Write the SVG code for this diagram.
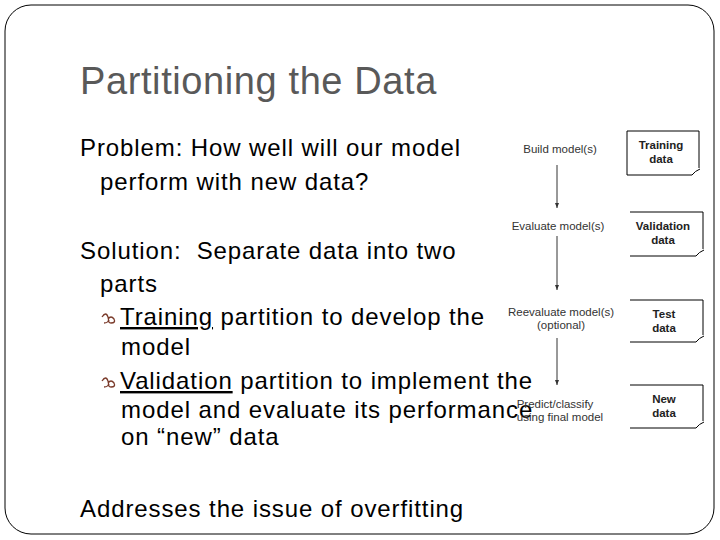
<svg xmlns="http://www.w3.org/2000/svg" width="720" height="540" viewBox="0 0 720 540">
<style>
.b{font-family:"Liberation Sans",Arial,sans-serif;font-size:24px;letter-spacing:0.9px;fill:#000}
.s{font-family:"Liberation Sans",Arial,sans-serif;font-size:11.5px;fill:#333;text-anchor:middle}
.d{font-family:"Liberation Sans",Arial,sans-serif;font-size:11.5px;font-weight:bold;fill:#222;text-anchor:middle}
.box{fill:none;stroke:#000;stroke-width:1}
.ar{stroke:#333;stroke-width:1;marker-end:url(#m)}
.bul{fill:none;stroke:#7a3a2a;stroke-width:1.3}
</style>
<defs><marker id="m" markerWidth="6" markerHeight="6" refX="5" refY="3" orient="auto"><path d="M0,1 L5,3 L0,5z" fill="#333"/></marker></defs>
<rect x="5" y="5" width="709" height="529" rx="26" fill="#fff" stroke="#000" stroke-width="1"/>
<text x="80" y="94" font-family="Liberation Sans, Arial, sans-serif" font-size="38" letter-spacing="0.6" fill="#595959">Partitioning the Data</text>
<g id="body">
<text class="b" x="80" y="156">Problem: How well will our model</text>
<text class="b" x="100" y="190">perform with new data?</text>
<text class="b" x="80" y="259">Solution:&#160; Separate data into two</text>
<text class="b" x="100" y="292">parts</text>
<path class="bul" d="M102,317 q4,-6 6,0 q2,6 -4,6 M108,319 q3,-4 6,0 q2,4 -3,4 q-3,0 -2,-3"/>
<text class="b" x="120" y="325"><tspan text-decoration="underline">Training</tspan> partition to develop the</text>
<text class="b" x="121" y="355">model</text>
<path class="bul" d="M102,381 q4,-6 6,0 q2,6 -4,6 M108,383 q3,-4 6,0 q2,4 -3,4 q-3,0 -2,-3"/>
<text class="b" x="120" y="389"><tspan text-decoration="underline">Validation</tspan> partition to implement the</text>
<text class="b" x="121" y="418">model and evaluate its performance</text>
<text class="b" x="121" y="445">on “new” data</text>
<text class="b" x="80" y="517">Addresses the issue of overfitting</text>
</g>
<g id="steps">
<text class="s" x="560" y="153">Build model(s)</text>
<text class="s" x="558" y="230">Evaluate model(s)</text>
<text class="s" x="561" y="316">Reevaluate model(s)</text>
<text class="s" x="561" y="329">(optional)</text>
<text class="s" x="555" y="408">Predict/classify</text>
<text class="s" x="560" y="421">using final model</text>
</g>
<g id="connectors">
<line class="ar" x1="557" y1="165" x2="557" y2="208"/>
<line class="ar" x1="557" y1="236" x2="557" y2="290"/>
<line class="ar" x1="557" y1="338" x2="557" y2="385"/>
</g>
<g id="training"><path class="box" d="M627,131 H699 V168 M627,131 V175 H692 M692,175 q3,-4 8,-6"/><text class="d" x="661" y="149">Training</text><text class="d" x="661" y="163">data</text></g>
<g id="validation"><path class="box" d="M630,212 H703 V249 M630,256 H696 M696,256 q3,-4 8,-6"/><text class="d" x="663" y="230">Validation</text><text class="d" x="663" y="244">data</text></g>
<g id="test"><path class="box" d="M630,300 H703 V335 M630,342 H696 M696,342 q3,-4 8,-6"/><text class="d" x="664" y="318">Test</text><text class="d" x="664" y="332">data</text></g>
<g id="new"><path class="box" d="M630,385 H703 V421 M630,428 H696 M696,428 q3,-4 8,-6"/><text class="d" x="664" y="403">New</text><text class="d" x="664" y="417">data</text></g>
</svg>
